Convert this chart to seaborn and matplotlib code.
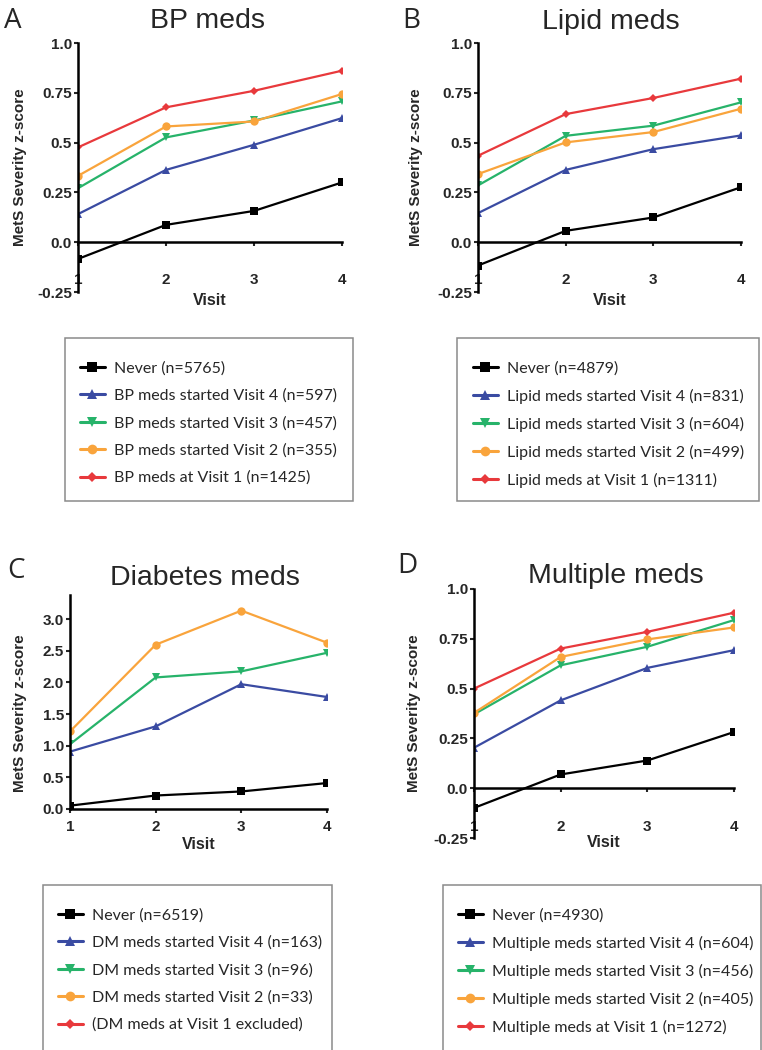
import matplotlib
matplotlib.use("Agg")
import matplotlib.pyplot as plt
from matplotlib.lines import Line2D
from matplotlib.patches import Rectangle
import pandas as pd
import seaborn as sns

# ── Data ─────────────────────────────────────────────────────────────────────
visits = [1, 2, 3, 4]

# A: BP meds
bp_never = [-0.084, 0.087, 0.157, 0.300]
bp_v4 = [0.141, 0.363, 0.489, 0.623]
bp_v3 = [0.271, 0.526, 0.611, 0.707]
bp_v2 = [0.333, 0.581, 0.606, 0.744]
bp_v1 = [0.476, 0.677, 0.760, 0.861]
bp_labels = ["Never (n=5765)", "BP meds started Visit 4 (n=597)",
             "BP meds started Visit 3 (n=457)", "BP meds started Visit 2 (n=355)",
             "BP meds at Visit 1 (n=1425)"]

# B: Lipid meds
lip_never = [-0.117, 0.057, 0.124, 0.276]
lip_v4 = [0.146, 0.363, 0.467, 0.536]
lip_v3 = [0.285, 0.534, 0.585, 0.702]
lip_v2 = [0.342, 0.501, 0.553, 0.670]
lip_v1 = [0.434, 0.643, 0.724, 0.821]
lip_labels = ["Never (n=4879)", "Lipid meds started Visit 4 (n=831)",
              "Lipid meds started Visit 3 (n=604)", "Lipid meds started Visit 2 (n=499)",
              "Lipid meds at Visit 1 (n=1311)"]

# C: Diabetes meds (visit-1 group excluded, no line)
dm_never = [0.053, 0.213, 0.277, 0.410]
dm_v4 = [0.906, 1.305, 1.971, 1.769]
dm_v3 = [1.023, 2.078, 2.174, 2.467]
dm_v2 = [1.225, 2.595, 3.133, 2.627]
dm_v1 = None
dm_labels = ["Never (n=6519)", "DM meds started Visit 4 (n=163)",
             "DM meds started Visit 3 (n=96)", "DM meds started Visit 2 (n=33)",
             "(DM meds at Visit 1 excluded)"]

# D: Multiple meds
mul_never = [-0.099, 0.069, 0.139, 0.282]
mul_v4 = [0.203, 0.441, 0.604, 0.693]
mul_v3 = [0.371, 0.617, 0.710, 0.844]
mul_v2 = [0.378, 0.659, 0.747, 0.807]
mul_v1 = [0.500, 0.701, 0.785, 0.881]
mul_labels = ["Never (n=4930)", "Multiple meds started Visit 4 (n=604)",
              "Multiple meds started Visit 3 (n=456)", "Multiple meds started Visit 2 (n=405)",
              "Multiple meds at Visit 1 (n=1272)"]

z_ticks = [-0.25, 0.0, 0.25, 0.5, 0.75, 1.0]
z_ticklabels = ["-0.25", "0.0", "0.25", "0.5", "0.75", "1.0"]
dm_ticks = [0.0, 0.5, 1.0, 1.5, 2.0, 2.5, 3.0]
dm_ticklabels = ["0.0", "0.5", "1.0", "1.5", "2.0", "2.5", "3.0"]

COLORS = ["#000000", "#3A4BA2", "#27B36A", "#F9A43C", "#E8393C"]
MARKERS = ["s", "^", "v", "o", "D"]
MSIZES = [6, 6, 6, 6, 4.5]

# ── Style ────────────────────────────────────────────────────────────────────
sns.set_style("ticks")
NARROW = ["Liberation Sans", "DejaVu Sans"]
LEG_FONT = ["Lato", "DejaVu Sans"]
plt.rcParams["font.family"] = NARROW

W, H = 762, 1050
fig = plt.figure(figsize=(W / 100, H / 100), dpi=100)


def px_box(left, right, top, bottom):
    """Axes rect from pixel edges."""
    return [left / W, 1 - bottom / H, (right - left) / W, (bottom - top) / H]


def draw_panel(rect, series, labels, ylim, yticks, yticklabels, xpad,
               title, title_xy, letter, letter_xy, ylab_x, ylab_y,
               xlab_y, box, leg_xy):
    ax = fig.add_axes(rect)
    rows = []
    for key, vals in zip(labels, series):
        if vals is None:
            continue
        for v, s in zip(visits, vals):
            rows.append({"visit": v, "score": s, "group": key})
    df = pd.DataFrame(rows)
    for i, lab in enumerate(labels):
        if series[i] is None:
            continue
        sns.lineplot(data=df[df["group"] == lab], x="visit", y="score",
                     color=COLORS[i], marker=MARKERS[i], markersize=MSIZES[i],
                     markeredgewidth=0, linewidth=1.6, ax=ax, legend=False)

    ax.set_xlim(1, 4)
    ax.set_ylim(*ylim)
    ax.spines["top"].set_visible(False)
    ax.spines["right"].set_visible(False)
    ax.spines["bottom"].set_position(("data", 0))
    for sp in ("left", "bottom"):
        ax.spines[sp].set_linewidth(1.8)
        ax.spines[sp].set_color("black")
    ax.set_xticks(visits)
    ax.set_xticklabels([str(v) for v in visits])
    ax.set_yticks(yticks)
    ax.set_yticklabels(yticklabels)
    ax.tick_params(axis="y", direction="out", length=3, width=1.5, pad=1.5,
                   labelsize=11)
    ax.tick_params(axis="x", direction="out", length=3, width=1.5, pad=xpad,
                   labelsize=11)
    for t in ax.get_xticklabels() + ax.get_yticklabels():
        t.set_fontweight("bold")

    ax.set_xlabel("Visit", fontsize=11.5, fontweight="bold", va="top")
    ax.xaxis.set_label_coords(0.5, xlab_y)
    ax.set_ylabel("MetS Severity z-score", fontsize=11, fontweight="bold",
                  va="center", ha="center", rotation_mode="default")
    ax.yaxis.set_label_coords(ylab_x, ylab_y)

    fig.text(title_xy[0] / W, 1 - title_xy[1] / H, title, fontsize=20.5,
             ha="center", va="baseline")
    fig.text(letter_xy[0] / W, 1 - letter_xy[1] / H, letter, fontsize=20,
             ha="left", va="baseline", family=["Open Sans", "DejaVu Sans"])

    # legend box and legend
    bl, br, bt, bb = box
    fig.patches.append(Rectangle((bl / W, 1 - bb / H), (br - bl) / W, (bb - bt) / H,
                                 transform=fig.transFigure, fill=False,
                                 edgecolor="#8a8a8a", linewidth=1.1))
    handles = [Line2D([], [], color=COLORS[i], marker=MARKERS[i],
                      markersize=MSIZES[i] + 1, markeredgewidth=0, linewidth=2.2)
               for i in range(5)]
    ax.legend(handles, labels, loc="upper left",
              bbox_to_anchor=(leg_xy[0] / W, 1 - leg_xy[1] / H),
              bbox_transform=fig.transFigure, frameon=False, borderpad=0,
              borderaxespad=0, handlelength=1.55, handletextpad=0.6,
              labelspacing=0.82, numpoints=1,
              prop={"family": LEG_FONT, "size": 11.5})
    return ax


draw_panel(px_box(78, 342, 43, 292),
           [bp_never, bp_v4, bp_v3, bp_v2, bp_v1], bp_labels,
           (-0.25, 1.0), z_ticks, z_ticklabels, 19,
           "BP meds", (207, 28), "A", (4, 28), -0.22, 0.5, -0.005,
           (65, 353, 338, 501), (80, 361))

draw_panel(px_box(478, 741, 43, 292),
           [lip_never, lip_v4, lip_v3, lip_v2, lip_v1], lip_labels,
           (-0.25, 1.0), z_ticks, z_ticklabels, 19,
           "Lipid meds", (611, 29), "B", (402, 28), -0.236, 0.5, -0.005,
           (457, 759, 338, 501), (473, 361))

draw_panel(px_box(70, 327, 595, 809),
           [dm_never, dm_v4, dm_v3, dm_v2, dm_v1], dm_labels,
           (0.0, 3.38), dm_ticks, dm_ticklabels, 5,
           "Diabetes meds", (205, 585), "C", (7, 578), -0.195, 0.45, -0.13,
           (43, 332, 885, 1060), (58, 908))

draw_panel(px_box(474, 734, 589, 838),
           [mul_never, mul_v4, mul_v3, mul_v2, mul_v1], mul_labels,
           (-0.25, 1.0), z_ticks, z_ticklabels, 20,
           "Multiple meds", (616, 583), "D", (397, 573), -0.23, 0.5, 0.012,
           (443, 761, 885, 1060), (458, 908))

fig.savefig("out.png", dpi=100)
